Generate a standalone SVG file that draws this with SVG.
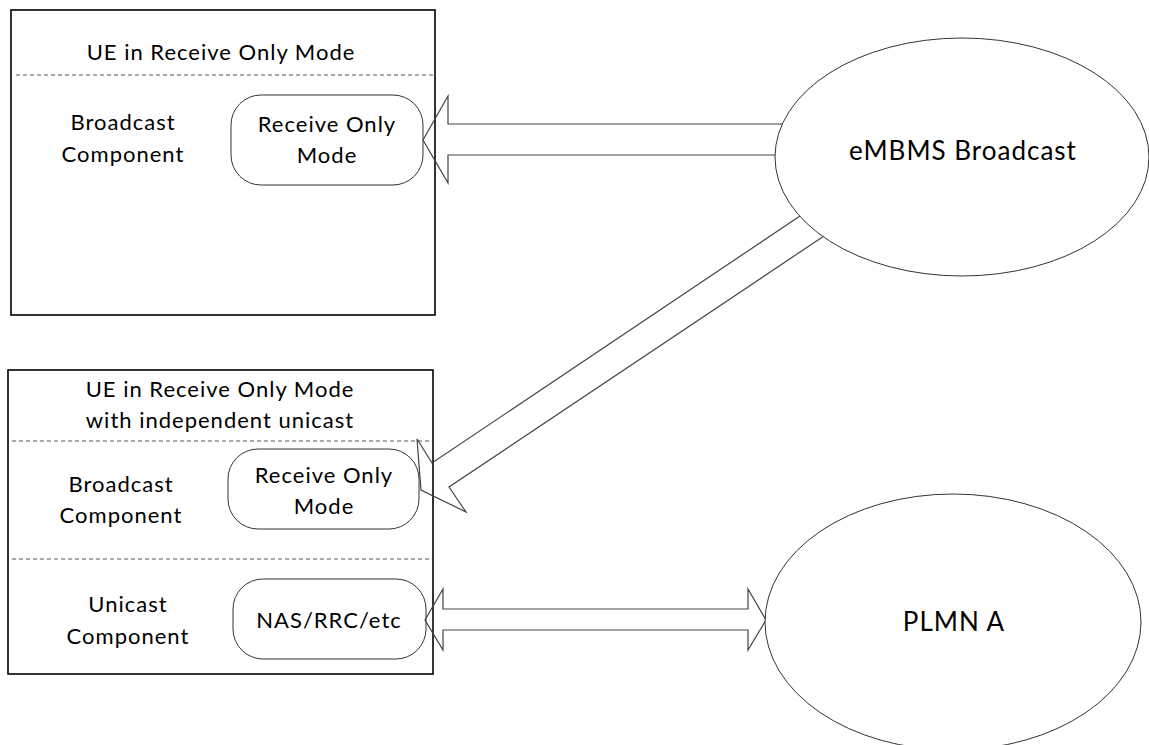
<svg xmlns="http://www.w3.org/2000/svg" width="1149" height="745" viewBox="0 0 1149 745">
<style>
text{font-family:Lato,"Liberation Sans",sans-serif;font-size:22px;fill:#000;text-anchor:middle;letter-spacing:1px}
.box{fill:#fff;stroke:#000;stroke-width:1.6}
.dash{stroke:#555;stroke-width:1;stroke-dasharray:4,3;fill:none}
.rr{fill:#fff;stroke:#333;stroke-width:1}
.arr{fill:none;stroke:#444;stroke-width:1.2;stroke-linejoin:miter}
.ell{fill:#fff;stroke:#333;stroke-width:1}
.big{font-size:26px}
</style>
<g id="ue1">
<rect class="box" x="11" y="10" width="424" height="305"/>
<line class="dash" x1="16" y1="75" x2="434" y2="75"/>
<text x="221" y="60">UE in Receive Only Mode</text>
<text x="123" y="130">Broadcast</text>
<text x="123" y="162">Component</text>
</g>
<g id="ue1-rom">
<rect class="rr" x="231" y="95" width="192" height="90" rx="30" ry="30"/>
<text x="327" y="132">Receive Only</text>
<text x="327" y="163">Mode</text>
</g>
<g id="ue2">
<rect class="box" x="8" y="370" width="425" height="304"/>
<line class="dash" x1="12" y1="441" x2="432" y2="441"/>
<line class="dash" x1="12" y1="559" x2="432" y2="559"/>
<text x="220" y="397">UE in Receive Only Mode</text>
<text x="220" y="428">with independent unicast</text>
<text x="121" y="492">Broadcast</text>
<text x="121" y="523">Component</text>
<text x="128" y="612">Unicast</text>
<text x="128" y="644">Component</text>
</g>
<g id="ue2-rom">
<rect class="rr" x="228" y="449" width="191" height="80" rx="30" ry="30"/>
<text x="324" y="483">Receive Only</text>
<text x="324" y="514">Mode</text>
</g>
<g id="ue2-nas">
<rect class="rr" x="233" y="579" width="193" height="80" rx="30" ry="30"/>
<text x="329" y="628">NAS/RRC/etc</text>
</g>
<g id="connectors">
<path class="arr" d="M790,124 L448,124 L448,96 L423,140 L448,183 L448,155 L790,155"/>
<path class="arr" d="M800,216 L432,463 L417,439 L421,490 L466,512 L449,487 L824,236"/>
<path class="arr" d="M443,609 L748,609 L748,589 L766,620 L748,650 L748,630 L443,630 L443,650 L425,620 L443,589 Z"/>
</g>
<g id="embms">
<ellipse class="ell" cx="962" cy="157" rx="187" ry="119"/>
<text class="big" x="963" y="160">eMBMS Broadcast</text>
</g>
<g id="plmn">
<ellipse class="ell" cx="953" cy="622" rx="188" ry="128"/>
<text class="big" x="954" y="631">PLMN A</text>
</g>
</svg>
